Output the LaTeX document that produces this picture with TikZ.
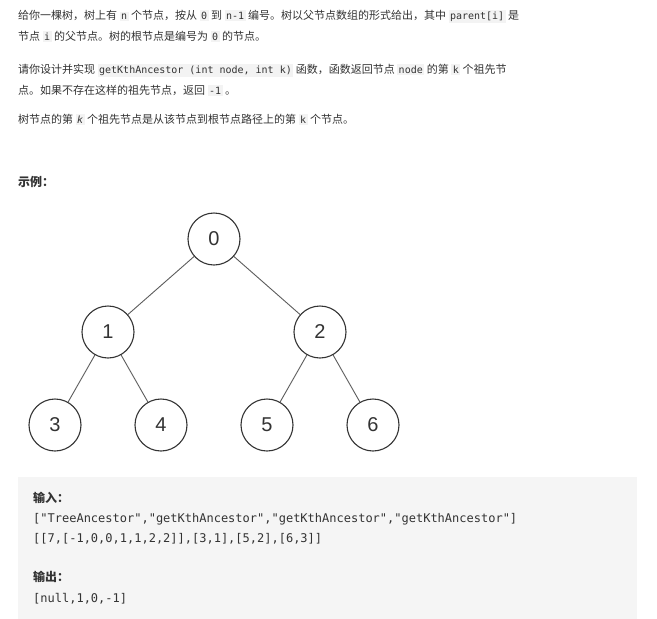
\documentclass[tikz,border=0pt]{standalone}
\usepackage{fontspec}
\setmainfont{Noto Sans CJK SC}
\newfontfamily\cjk{Noto Sans CJK SC}
\newfontfamily\monof{DejaVu Sans Mono}
\newfontfamily\numf{Liberation Sans}
\definecolor{codebg}{HTML}{F3F3F3}
\definecolor{boxbg}{HTML}{F5F5F5}
\definecolor{txt}{HTML}{333333}
\newcommand{\cd}[1]{{\setlength{\fboxsep}{1.5pt}\colorbox{codebg}{\monof\fontsize{10pt}{12pt}\selectfont #1}}}
\begin{document}
\begin{tikzpicture}[x=1pt,y=-1pt,
  txtline/.style={anchor=base west,inner sep=0pt,text=txt,font=\cjk\fontsize{11pt}{14pt}\selectfont},
  boldline/.style={txtline,font=\cjk\bfseries\fontsize{12pt}{15pt}\selectfont},
  codeline/.style={anchor=base west,inner sep=0pt,text=txt,font=\monof\fontsize{12pt}{14pt}\selectfont},
  tn/.style={circle,draw=txt,line width=1.1pt,minimum size=52pt,inner sep=0pt,font=\numf\fontsize{20pt}{22pt}\selectfont,text=txt},
  edge/.style={draw=txt!80,line width=0.9pt}]
\useasboundingbox (0,0) rectangle (657,619);
\fill[white] (0,0) rectangle (657,619);
\node[txtline] (l1) at (18,19) {给你一棵树，树上有 \cd{n} 个节点，按从 \cd{0} 到 \cd{n-1} 编号。树以父节点数组的形式给出，其中 \cd{parent[i]} 是};
\node[txtline] (l2) at (18,40) {节点 \cd{i} 的父节点。树的根节点是编号为 \cd{0} 的节点。};
\node[txtline] (l3) at (18,73) {请你设计并实现 \cd{getKthAncestor (int node, int k)} 函数，函数返回节点 \cd{node} 的第 \cd{k} 个祖先节};
\node[txtline] (l4) at (18,94) {点。如果不存在这样的祖先节点，返回 \cd{-1} 。};
\node[txtline] (l5) at (18,123) {树节点的第 \cd{\itshape k} 个祖先节点是从该节点到根节点路径上的第 \cd{k} 个节点。};
\node[boldline] (ex) at (18,186) {示例：};
\node[tn] (n0) at (214,239) {0};
\node[tn] (n1) at (108,332) {1};
\node[tn] (n2) at (320,332) {2};
\node[tn] (n3) at (55,425) {3};
\node[tn] (n4) at (161,425) {4};
\node[tn] (n5) at (267,425) {5};
\node[tn] (n6) at (373,425) {6};
\draw[edge] (n0) -- (n1); \draw[edge] (n0) -- (n2);
\draw[edge] (n1) -- (n3); \draw[edge] (n1) -- (n4);
\draw[edge] (n2) -- (n5); \draw[edge] (n2) -- (n6);
\fill[boxbg] (18,477) rectangle (637,619);
\node[boldline] (in) at (33,502) {输入：};
\node[codeline] (c1) at (33,522) {["TreeAncestor","getKthAncestor","getKthAncestor","getKthAncestor"]};
\node[codeline] (c2) at (33,542) {[[7,[-1,0,0,1,1,2,2]],[3,1],[5,2],[6,3]]};
\node[boldline] (out) at (33,581) {输出：};
\node[codeline] (c3) at (33,602) {[null,1,0,-1]};
\end{tikzpicture}
\end{document}
